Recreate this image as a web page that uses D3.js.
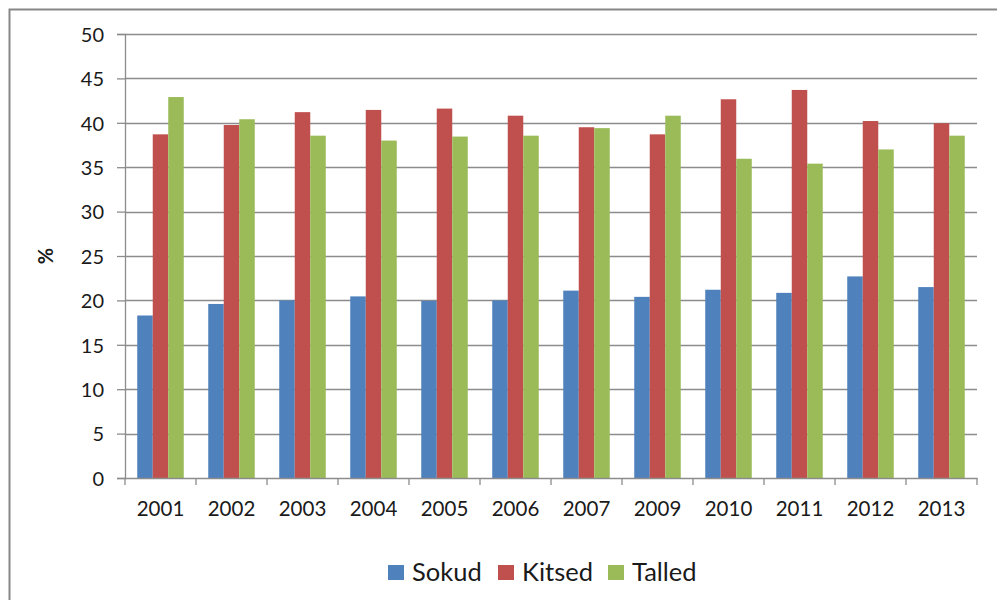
<!DOCTYPE html>
<html>
<head>
<meta charset="utf-8">
<script src="https://cdn.jsdelivr.net/npm/d3@7"></script>
<style>
  body { margin: 0; background: #fff; }
  svg { display: block; font-family: Lato, "Open Sans", sans-serif; }
</style>
</head>
<body>
<div id="container"></div>
<script>
// data
const years = ["2001", "2002", "2003", "2004", "2005", "2006", "2007", "2009", "2010", "2011", "2012", "2013"];
const sokud = [18.3, 19.6, 20.0, 20.45, 19.95, 20.0, 21.1, 20.4, 21.2, 20.85, 22.7, 21.5];
const kitsed = [38.7, 39.75, 41.2, 41.45, 41.6, 40.8, 39.5, 38.7, 42.65, 43.7, 40.2, 39.95];
const talled = [42.9, 40.4, 38.55, 38.0, 38.45, 38.55, 39.4, 40.8, 35.95, 35.4, 37.0, 38.55];
const seriesNames = ["Sokud", "Kitsed", "Talled"];
const yTicks = [0, 5, 10, 15, 20, 25, 30, 35, 40, 45, 50];

const colors = ["#4F81BD", "#C0504D", "#9BBB59"];
const series = [sokud, kitsed, talled];

const w = 997;
const h = 600;
const plotLeft = 125, plotRight = 977, plotTop = 34, plotBottom = 478;

let svg = d3
  .select("#container")
  .append("svg")
  .attr("width", w)
  .attr("height", h);

// outer frame
svg
  .append("rect")
  .attr("x", 9.5)
  .attr("y", 9.5)
  .attr("width", 1000)
  .attr("height", 600)
  .attr("fill", "none")
  .attr("stroke", "#878787")
  .attr("stroke-width", 2);

//Scales
const xScale = d3
  .scaleBand()
  .domain(years)
  .range([plotLeft, plotRight])
  .paddingInner(0.345)
  .paddingOuter(0.345 / 2);
const xSub = d3
  .scaleBand()
  .domain(seriesNames)
  .range([0, xScale.bandwidth()]);
const yScale = d3.scaleLinear().domain([0, 50]).range([plotBottom, plotTop]);

//Grid
svg
  .append("g")
  .selectAll("line")
  .data(yTicks.filter((t) => t > 0))
  .enter()
  .append("line")
  .attr("x1", plotLeft)
  .attr("x2", plotRight)
  .attr("y1", (d) => Math.round(yScale(d)) + 0.5)
  .attr("y2", (d) => Math.round(yScale(d)) + 0.5)
  .attr("stroke", "#8c8c8c")
  .attr("stroke-width", 1.3);

//Bars
let groups = svg
  .append("g")
  .selectAll("g")
  .data(years)
  .enter()
  .append("g")
  .attr("transform", (d) => "translate(" + xScale(d) + ",0)");

groups
  .selectAll("rect")
  .data((d, i) => seriesNames.map((s, j) => ({ s: s, v: series[j][i], c: colors[j] })))
  .enter()
  .append("rect")
  .attr("x", (d) => xSub(d.s))
  .attr("width", xSub.bandwidth())
  .attr("y", (d) => yScale(d.v))
  .attr("height", (d) => yScale(0) - yScale(d.v))
  .attr("fill", (d) => d.c);

//Axis
var y_axis = d3
  .axisLeft(yScale)
  .tickValues(yTicks)
  .tickSize(8)
  .tickPadding(13);
let gy = svg
  .append("g")
  .attr("transform", "translate(" + plotLeft + ", 0)")
  .call(y_axis)
  .attr("font-family", "Lato, sans-serif");
gy.select(".domain").attr("stroke", "#8c8c8c").attr("stroke-width", 1.3);
gy.selectAll(".tick line").attr("stroke", "#8c8c8c").attr("stroke-width", 1.3);
gy.selectAll("text")
  .attr("fill", "#1a1a1a")
  .style("font-size", "20px")
  .attr("dy", "0.36em");

var x_axis = d3.axisBottom(xScale).tickSize(0).tickPadding(31);
let gx = svg
  .append("g")
  .attr("transform", "translate(0, " + plotBottom + ")")
  .call(x_axis)
  .attr("font-family", "Lato, sans-serif");
gx.select(".domain").attr("stroke", "#8c8c8c").attr("stroke-width", 1.3);
gx.selectAll("text")
  .attr("fill", "#1a1a1a")
  .style("font-size", "20.5px")
  .attr("dy", "0.35em");

// tick marks between categories
const step = xScale.step();
gx.selectAll(".sep")
  .data(d3.range(years.length + 1))
  .enter()
  .append("line")
  .attr("class", "sep")
  .attr("x1", (i) => plotLeft + i * step)
  .attr("x2", (i) => plotLeft + i * step)
  .attr("y1", 0)
  .attr("y2", 7)
  .attr("stroke", "#8c8c8c")
  .attr("stroke-width", 1.3);

// y label
svg
  .append("text")
  .attr("transform", "translate(53, " + (plotTop + plotBottom) / 2 + ") rotate(-90)")
  .style("text-anchor", "middle")
  .style("font-size", "20px")
  .style("font-weight", "bold")
  .attr("fill", "#1a1a1a")
  .text("%");

//Legend
const legendX = [388, 498, 608];
let legend = svg
  .append("g")
  .selectAll("g")
  .data(seriesNames)
  .enter()
  .append("g")
  .attr("transform", (d, i) => "translate(" + legendX[i] + ", 565)");
legend
  .append("rect")
  .attr("width", 16)
  .attr("height", 15)
  .attr("fill", (d, i) => colors[i]);
legend
  .append("text")
  .attr("x", 24)
  .attr("y", 16)
  .style("font-size", "25.5px")
  .attr("fill", "#1a1a1a")
  .text((d) => d);
</script>
</body>
</html>
